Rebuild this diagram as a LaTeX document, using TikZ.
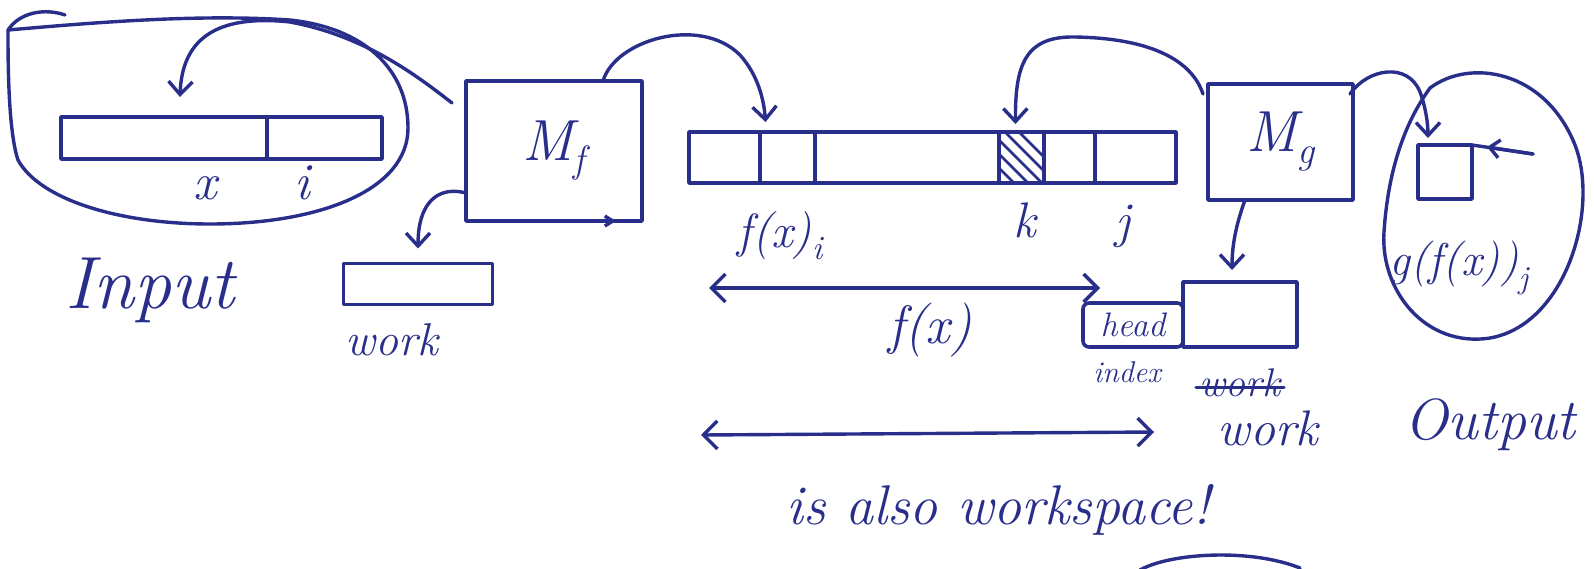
\documentclass[tikz,border=0pt]{standalone}
\usepackage{fontspec}
\usetikzlibrary{arrows.meta,calc}
\definecolor{ink}{RGB}{40,46,138}
\newcommand\myfs[1]{\fontsize{#1}{#1}\selectfont}
\tikzset{
  tbox/.style={draw=ink, line width=3.6pt, inner sep=0pt, outer sep=0pt},
  arr/.style={draw=ink, line width=3.4pt, -{Straight Barb[length=13pt,width=24pt]}},
  darr/.style={draw=ink, line width=3.4pt, {Straight Barb[length=14pt,width=28pt]}-{Straight Barb[length=14pt,width=28pt]}},
  lbl/.style={text=ink, inner sep=0pt, font=\itshape},
}
\begin{document}
\begin{tikzpicture}[x=1pt,y=-1pt,line width=3.4pt,line cap=round,line join=round]
\useasboundingbox (0,0) rectangle (1594,568);
\begin{scope}[draw=ink]
% ---------- Input ----------
\node[tbox, minimum width=321pt, minimum height=42pt] (intape) at (221.5,138) {};
\draw (267,117) -- (267,159);
\node[lbl] (lx) at (205,188) {\myfs{52}x};
\node[lbl] (li) at (302,183) {\myfs{52}i};
\draw (8,30) .. controls (100,22) and (200,14) .. (290,20)
      .. controls (365,28) and (408,70) .. (408,128)
      .. controls (408,190) and (320,224) .. (210,224)
      .. controls (120,224) and (40,200) .. (18,160)
      .. controls (8,130) and (8,60) .. (8,30) -- cycle;
\draw (8,30) .. controls (20,12) and (45,8) .. (65,15);
\node[lbl] (linput) at (150,290) {\myfs{74}Input};
% ---------- M_f ----------
\node[tbox, minimum width=176pt, minimum height=140pt, text=ink, font=\itshape] (Mf) at (554,151) {\myfs{58}M\raisebox{-12pt}{\myfs{38}f}};
\draw[-{Straight Barb[length=8pt,width=10pt]}] ($(Mf.south east)+(-50,0)$) -- ($(Mf.south east)+(-26,0)$);
\node[tbox, minimum width=149pt, minimum height=41pt] (w1) at (418,284) {};
\node[lbl] (lw1) at (392,340) {\myfs{46}work};
% ---------- middle tape ----------
\node[tbox, minimum width=487pt, minimum height=51pt] (tape) at (932.5,157.5) {};
\node[tbox, minimum width=55pt, minimum height=51pt] (cfx) at (787.5,157.5) {};
\node[tbox, minimum width=45pt, minimum height=51pt] (ck) at (1021.5,157.5) {};
\node[tbox, minimum width=81pt, minimum height=51pt] (cj) at (1135.5,157.5) {};
\begin{scope}
  \clip (999,132) rectangle (1044,183);
  \foreach \d in {-36,-22,-8,6,20} \draw[line width=2.8pt] (999+\d,132) -- (1050+\d,183);
\end{scope}
\node[lbl] (lfxi) at (780,236) {\myfs{48}f(x)\raisebox{-12pt}{\myfs{34}i}};
\node[lbl] (lk) at (1025,220) {\myfs{50}k};
\node[lbl] (lj) at (1123,226) {\myfs{50}j};
% ---------- M_g ----------
\node[tbox, minimum width=145pt, minimum height=116pt, text=ink, font=\itshape] (Mg) at (1280.5,142) {\myfs{58}M\raisebox{-12pt}{\myfs{38}g}};
\node[tbox, rounded corners=6pt, minimum width=100pt, minimum height=44pt, text=ink, font=\itshape] (head) at (1133,325) {\myfs{34}head};
\node[tbox, minimum width=114pt, minimum height=65pt] (w2) at (1240,314.5) {};
\node[lbl] (lindex) at (1127,372) {\myfs{30}index};
\node[lbl] (lws) at (1240,383) {\myfs{40}work};
\draw ($(lws.base west)+(-2,-9)$) -- ($(lws.base east)+(2,-9)$);
\node[lbl] (lw2) at (1268,428) {\myfs{50}work};
% ---------- dimension arrows ----------
\coordinate (fa) at (709,288);
\coordinate (fb) at (1100,288);
\draw[darr] (fa) -- (fb);
\node[lbl] (lfx) at (930,330) {\myfs{54}f(x)};
\coordinate (wa) at (701,435);
\coordinate (wb) at (1154,432);
\draw[darr] (wa) -- (wb);
\node[lbl] (lalso) at (998,510) {\myfs{56}is also workspace!};
\draw (1140,570) .. controls (1170,553) and (1250,548) .. (1300,568);
% ---------- Output ----------
\node[tbox, minimum width=54pt, minimum height=54pt] (oc) at (1445,172) {};
\coordinate (otail) at (1533,154);
\draw (oc.north east) -- (otail);
\draw[-{Straight Barb[length=10pt,width=18pt]}] (otail) -- (1487,147);
\draw (1430,88) .. controls (1470,58) and (1545,70) .. (1575,145)
      .. controls (1600,210) and (1565,325) .. (1490,338)
      .. controls (1425,348) and (1380,290) .. (1384,232)
      .. controls (1388,170) and (1405,122) .. (1430,88) -- cycle;
\node[lbl] (lgfx) at (1459,268) {\myfs{46}g(f(x))\raisebox{-13pt}{\myfs{32}j}};
\node[lbl] (lout) at (1490,425) {\myfs{58}Output};
% ---------- connectors ----------
\draw[arr] ($(Mf.north west)+(-14,22)$) .. controls (410,70) and (360,35) .. (290,22)
      .. controls (215,14) and (182,40) .. ($(intape.north west)+(119,-20)$);
\draw[arr] ($(Mf.west)+(0,42)$) .. controls (440,186) and (418,200) .. ($(w1.north)+(0,-15)$);
\draw[arr] ($(Mf.north east)+(-39,0)$) .. controls (615,40) and (700,15) .. (740,55)
      .. controls (758,75) and (764,100) .. ($(cfx.north)+(-22,-10)$);
\draw[arr] ($(Mg.north west)+(-5,10)$) .. controls (1190,55) and (1140,38) .. (1075,37)
      .. controls (1025,36) and (1015,65) .. ($(ck.north)+(-6,-8)$);
\draw[arr] ($(Mg.south west)+(37,0)$) .. controls (1236,225) and (1232,245) .. ($(w2.north)+(-8,-12)$);
\draw[arr] ($(Mg.north east)+(-3,10)$) .. controls (1368,68) and (1408,62) .. (1420,92)
      .. controls (1426,108) and (1428,125) .. ($(oc.north west)+(10,-7)$);
\end{scope}
\end{tikzpicture}
\end{document}
